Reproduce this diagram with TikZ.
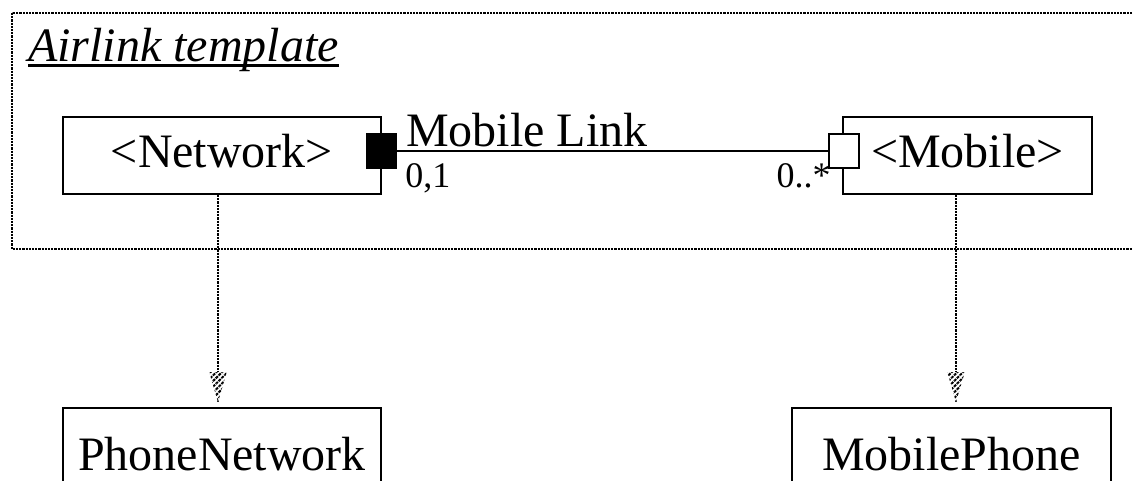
\documentclass[tikz,border=0pt]{standalone}
\usepackage{fontspec}
\setmainfont{Liberation Serif}
\newcommand{\ulthick}[1]{\setbox0\hbox{#1}\rlap{\vrule height -1.8pt depth 3.6pt width \wd0}\box0}
\usetikzlibrary{patterns.meta,decorations.markings}
\tikzset{
  umlbox/.style={draw, line width=1.5pt, inner sep=0pt, font=\fontsize{36}{40}\selectfont,
    text height=19.5pt, text depth=0.75pt},
  endsq/.style={draw, line width=1.1pt, inner sep=0pt, minimum width=22.5pt, minimum height=25.5pt},
  lbl/.style={inner sep=0pt, font=\fontsize{36}{40}\selectfont},
  mult/.style={inner sep=0pt, font=\fontsize{27}{30}\selectfont},
  frame/.style={line width=1pt, dash pattern=on 1.6pt off 0.8pt},
  dep/.style={line width=1.1pt, dash pattern=on 1.6pt off 0.8pt,
    postaction={decorate, decoration={markings, mark=at position 1 with {
      \fill[white] (0,0) -- (-22.5pt,6.6pt) -- (-22.5pt,-6.6pt) -- cycle;
      \fill[pattern={Lines[angle=45,distance=3pt,line width=1.5pt]}]
        (0,0) -- (-22.5pt,6.6pt) -- (-22.5pt,-6.6pt) -- cycle;}}}}
}
\begin{document}
\begin{tikzpicture}[x=0.75pt,y=-0.75pt]
      \useasboundingbox (0,0) rectangle (1133,481);
      \clip (0,0) rectangle (1133,481);
      \draw[frame] (12,13) rectangle (1160,249);
      \node[lbl, anchor=base west] (title) at (28,62) {\ulthick{\textit{Airlink template}}};
      \node[umlbox, minimum width=238.5pt, minimum height=57.75pt] (net) at (222,155.5) {<Network>};
      \node[umlbox, minimum width=186.75pt, minimum height=57.75pt] (mob) at (967.5,155.5) {<Mobile>};
      \node[umlbox, minimum width=238.5pt, minimum height=74.25pt] (pnet) at (222,457.5) {PhoneNetwork};
      \node[umlbox, minimum width=239.25pt, minimum height=74.25pt] (mph) at (951.5,457.5) {MobilePhone};
      \node[endsq, fill=black] (fsq) at (381.5,151) {};
      \node[endsq, fill=white] (osq) at (844,151) {};
      \draw[line width=1.1pt] (fsq) -- (osq);
      \node[lbl, anchor=base west] (link) at (406,147) {Mobile Link};
      \node[mult, anchor=base west] (m1) at (405,188) {0,1};
      \node[mult, anchor=base east] (m2) at (831,188) {0..*};
      \coordinate (tipA) at ([xshift=-3pt,yshift=3.75pt]pnet.north);
      \coordinate (tipB) at ([xshift=3.4pt,yshift=3.75pt]mph.north);
      \draw[dep] (net.south -| tipA) -- (tipA);
      \draw[dep] (mob.south -| tipB) -- (tipB);
    \end{tikzpicture}
\end{document}
